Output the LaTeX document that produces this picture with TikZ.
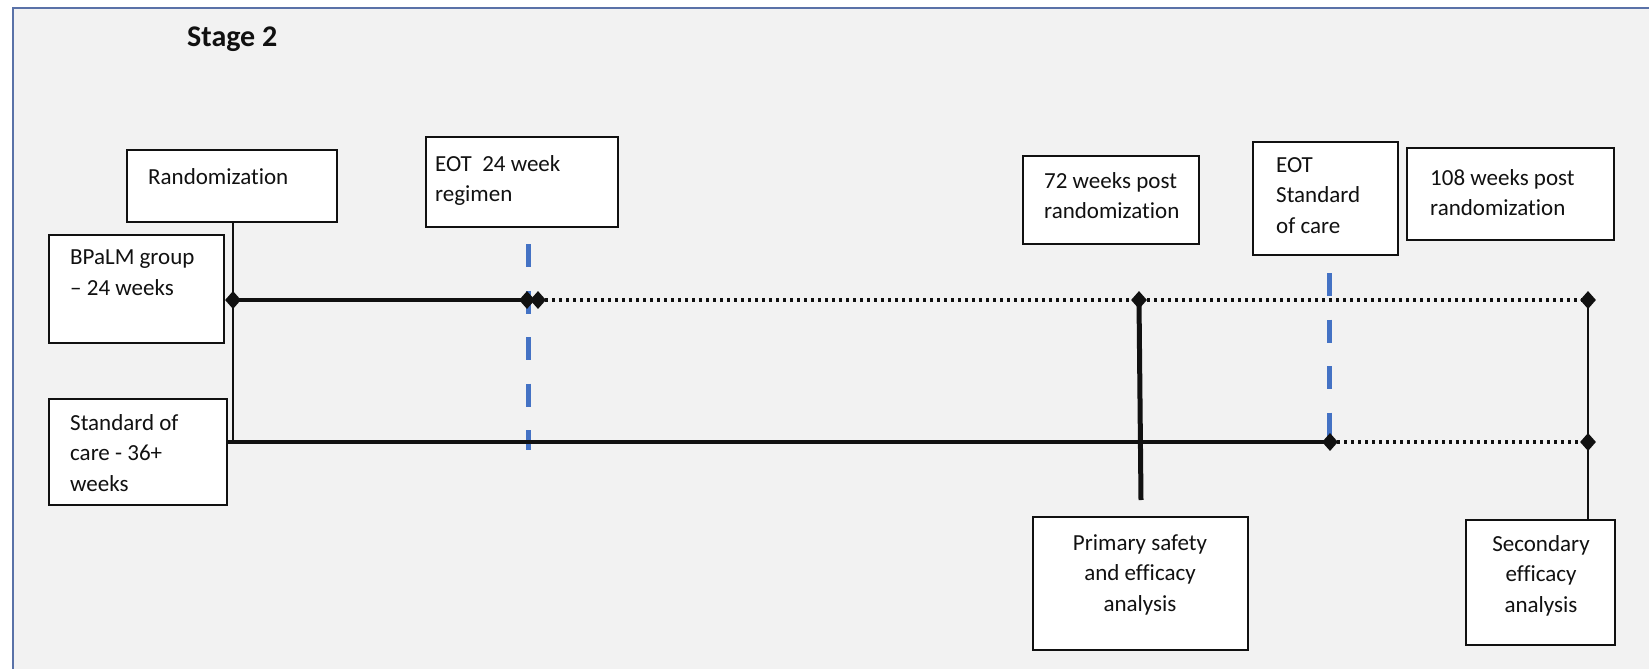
\documentclass[tikz,border=0pt]{standalone}
\usepackage{fontspec}
\setmainfont[Ligatures={NoCommon}]{Carlito}
\usetikzlibrary{shapes.geometric}
\definecolor{bgGray}{HTML}{F2F2F2}
\definecolor{frameBlue}{HTML}{5A72A8}
\definecolor{dashBlue}{HTML}{4472C4}
\definecolor{inkBlack}{HTML}{111111}
\begin{document}
\begin{tikzpicture}[x=1pt,y=-1pt,
  box/.style={draw=inkBlack, line width=2pt, fill=white, inner sep=0pt, outer sep=0pt},
  lbl/.style={font=\fontsize{23}{30.5}\selectfont, text=inkBlack, inner sep=0pt, anchor=north west, align=left, execute at begin node={\rule{0pt}{18pt}}},
  clbl/.style={lbl, anchor=north, align=center},
  dmd/.style={diamond, fill=inkBlack, inner sep=0pt, minimum width=16pt, minimum height=18pt},
  solidline/.style={draw=inkBlack, line width=3.6pt},
  dotline/.style={draw=inkBlack, line width=3.6pt, dash pattern=on 3.2pt off 3.8pt},
  thinline/.style={draw=inkBlack, line width=2.2pt},
  thickline/.style={draw=inkBlack, line width=5pt},
  bluedash/.style={draw=dashBlue, line width=5pt, dash pattern=on 23pt off 23.5pt}]
\useasboundingbox (0,0) rectangle (1649,669);
\fill[white] (0,0) rectangle (1649,669);
\fill[bgGray] (13,8) rectangle (1649,669);
\draw[frameBlue, line width=2.5pt] (13,669) -- (13,8) -- (1649,8);

\node[font=\fontsize{30}{36}\selectfont\bfseries, text=inkBlack, anchor=base west, inner sep=0pt] (title) at (187,47) {Stage 2};

% boxes
\node[box, minimum width=210pt, minimum height=72pt] (rand) at (232,186) {};
\node[box, minimum width=192pt, minimum height=90pt] (eot24) at (522,182) {};
\node[box, minimum width=175pt, minimum height=108pt] (bpalm) at (136.5,289) {};
\node[box, minimum width=178pt, minimum height=106pt] (soc) at (138,452) {};
\node[box, minimum width=176pt, minimum height=88pt] (w72) at (1111,200) {};
\node[box, minimum width=145pt, minimum height=113pt] (eotsoc) at (1325.5,198.5) {};
\node[box, minimum width=207pt, minimum height=92pt] (w108) at (1510.5,194) {};
\node[box, minimum width=215pt, minimum height=133pt] (prim) at (1140.5,583.5) {};
\node[box, minimum width=149pt, minimum height=125pt] (sec) at (1540.5,582.5) {};

% labels
\node[lbl] (tRand) at (148,166) {Randomization};
\node[lbl] (tEot24) at (435,155) {EOT\ \ 24 week\\regimen};
\node[lbl] (tBpalm) at (70,250) {BPaLM group\\– 24 weeks};
\node[lbl] (tSoc) at (70,414) {Standard of\\care - 36+\\weeks};
\node[lbl] (tW72) at (1044,172) {72 weeks post\\randomization};
\node[lbl] (tEotSoc) at (1276,157) {EOT\\Standard\\of care};
\node[lbl] (tW108) at (1430,169) {108 weeks post\\randomization};
\node[clbl] (tPrim) at (1140,534) {Primary safety\\and efficacy\\analysis};
\node[clbl] (tSec) at (1541,535) {Secondary\\efficacy\\analysis};

% blue dashed markers
\coordinate (b1top) at (528,244);
\coordinate (b1bot) at (528,450);
\coordinate (b2top) at (1329,273);
\coordinate (b2bot) at (1329,442);
\draw[bluedash] (b1top) -- (b1bot);
\draw[bluedash] (b2top) -- (b2bot);

% diamonds
\node[dmd] (d1) at (233,300) {};
\node[dmd] (d2) at (527,300) {};
\node[dmd] (d3) at (538,300) {};
\node[dmd] (d4) at (1139,300) {};
\node[dmd] (d5) at (1588,300) {};
\node[dmd] (d6) at (1330,442) {};
\node[dmd] (d7) at (1588,442) {};

% connectors
\draw[thinline] (rand.south -| d1) -- (d1 |- d6);
\draw[solidline] (d1.center) -- (d2.center);
\draw[dotline] (d3.center) -- (d5.center);
\draw[solidline] (soc.east |- d6) -- (d6.center);
\draw[dotline] (d6.center) -- (d7.center);
\coordinate (pend) at (1141,500);
\draw[thickline] (d4.center) -- (pend);
\draw[thinline] (d5.center) -- (d5 |- sec.north);
\end{tikzpicture}
\end{document}
